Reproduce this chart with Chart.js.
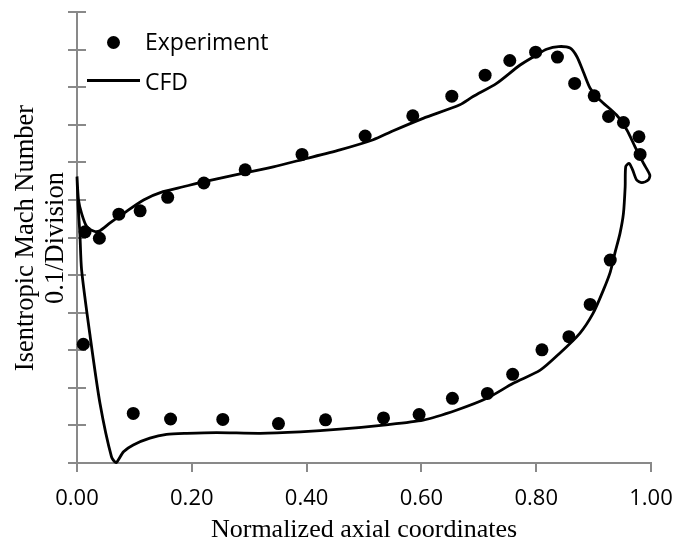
<!DOCTYPE html>
<html>
<head>
<meta charset="utf-8">
<script src="https://cdn.jsdelivr.net/npm/chart.js@4/dist/chart.umd.min.js"></script>
<style>
  html, body { margin: 0; padding: 0; background: #fff; }
  #wrap { position: relative; width: 677px; height: 544px; }
  .ytitle {
    position: absolute; white-space: nowrap; line-height: 1;
    font-family: "Liberation Serif", "Times New Roman", serif; font-size: 26.5px; color: #000;
    transform: translate(-50%, -50%) rotate(-90deg);
  }
  .leg { position: absolute; font-family: "Open Sans", sans-serif; font-size: 23px; line-height: 1; color: #000; white-space: nowrap; }
</style>
</head>
<body>
<div id="wrap">
  <canvas id="chart" width="677" height="544"></canvas>
  <div class="ytitle" style="left:24px; top:238px;">Isentropic Mach Number</div>
  <div class="ytitle" style="left:54px; top:238px;">0.1/Division</div>
  <div style="position:absolute; left:107px; top:36px; width:13px; height:13px; border-radius:50%; background:#000;"></div>
  <div class="leg" style="left:145px; top:30px;">Experiment</div>
  <div style="position:absolute; left:87px; top:79px; width:53px; height:3px; background:#000;"></div>
  <div class="leg" style="left:145px; top:70px;">CFD</div>
</div>
<script>
const axisColor = '#898989';

// experimental points, suction side then pressure side
const expSuctionX = [0.014, 0.039, 0.073, 0.110, 0.158, 0.221, 0.293, 0.392, 0.502, 0.585, 0.653,
  0.711, 0.754, 0.799, 0.837, 0.867, 0.901, 0.926, 0.952, 0.979, 0.981];
const expSuctionY = [0.615, 0.598, 0.662, 0.671, 0.707, 0.745, 0.780, 0.821, 0.870, 0.924, 0.976,
  1.032, 1.071, 1.093, 1.080, 1.010, 0.977, 0.922, 0.906, 0.868, 0.821];
const expPressureX = [0.011, 0.098, 0.163, 0.254, 0.351, 0.433, 0.534, 0.596, 0.654, 0.715, 0.759,
  0.810, 0.857, 0.894, 0.929];
const expPressureY = [0.316, 0.132, 0.117, 0.116, 0.105, 0.115, 0.120, 0.129, 0.172, 0.185, 0.236,
  0.301, 0.336, 0.422, 0.540];

// CFD curve, traced LE -> suction side -> TE loop -> pressure side -> LE
const cfdX = [0.000, 0.0026, 0.008, 0.017, 0.031, 0.040, 0.057, 0.081, 0.116, 0.150, 0.185, 0.226,
  0.290, 0.342, 0.394, 0.458, 0.516, 0.551, 0.603, 0.667, 0.690, 0.731, 0.772, 0.801, 0.818, 0.839,
  0.859, 0.871, 0.882, 0.894, 0.911, 0.940, 0.958, 0.972, 0.987, 0.998, 0.995, 0.984, 0.975, 0.968,
  0.962, 0.956, 0.955, 0.952, 0.946, 0.937, 0.929, 0.917, 0.899, 0.876, 0.841, 0.807, 0.760, 0.714,
  0.662, 0.603, 0.534, 0.458, 0.389, 0.319, 0.243, 0.191, 0.156, 0.127, 0.098, 0.081, 0.068, 0.060,
  0.040, 0.023, 0.008, 0.005, 0.002, 0.000];
const cfdY = [0.762, 0.700, 0.664, 0.629, 0.616, 0.618, 0.638, 0.664, 0.700, 0.722, 0.735, 0.750,
  0.771, 0.788, 0.808, 0.833, 0.860, 0.884, 0.917, 0.953, 0.975, 1.010, 1.059, 1.086, 1.101, 1.108,
  1.104, 1.081, 1.041, 0.997, 0.966, 0.926, 0.886, 0.842, 0.797, 0.766, 0.753, 0.746, 0.753, 0.780,
  0.797, 0.789, 0.735, 0.664, 0.611, 0.558, 0.508, 0.460, 0.398, 0.345, 0.292, 0.247, 0.212, 0.172,
  0.141, 0.114, 0.101, 0.090, 0.083, 0.079, 0.081, 0.079, 0.076, 0.066, 0.048, 0.030, 0.001, 0.017,
  0.159, 0.336, 0.514, 0.612, 0.682, 0.762];

const xTicks = [0, 0.2, 0.4, 0.6, 0.8, 1.0];

const toPts = (xs, ys) => xs.map((x, i) => ({ x, y: ys[i] }));

// y ticks in the reference cross the axis line
const crossTicks = {
  id: 'crossTicks',
  beforeDatasetsDraw(chart) {
    const y = chart.scales.y;
    const ctx = chart.ctx;
    ctx.save();
    ctx.strokeStyle = axisColor;
    ctx.lineWidth = 2;
    y.ticks.forEach((t, i) => {
      const py = Math.round(y.getPixelForTick(i));
      ctx.beginPath();
      ctx.moveTo(y.right, py);
      ctx.lineTo(y.right + 9, py);
      ctx.stroke();
    });
    ctx.restore();
  }
};

new Chart(document.getElementById('chart'), {
  type: 'scatter',
  data: {
    datasets: [
      {
        label: 'Experiment',
        data: toPts(expSuctionX, expSuctionY).concat(toPts(expPressureX, expPressureY)),
        backgroundColor: '#000',
        borderWidth: 0,
        pointRadius: 6.5,
        pointHoverRadius: 6.5,
        clip: false
      },
      {
        label: 'CFD',
        data: toPts(cfdX, cfdY),
        showLine: true,
        borderColor: '#000',
        borderWidth: 2.8,
        pointRadius: 0,
        tension: 0.25,
        clip: false
      }
    ]
  },
  plugins: [crossTicks],
  options: {
    responsive: false,
    animation: false,
    devicePixelRatio: 1,
    layout: { padding: { top: 12, right: 26, left: 0, bottom: 0 } },
    plugins: { legend: { display: false }, tooltip: { enabled: false } },
    scales: {
      x: {
        type: 'linear', min: 0, max: 1,
        afterBuildTicks: s => { s.ticks = xTicks.map(v => ({ value: v })); },
        afterFit: s => { s.height = 81; s.paddingLeft = 0; s.paddingRight = 0; },
        ticks: {
          callback: v => v.toFixed(2),
          color: '#000', padding: 14, maxRotation: 0,
          font: { family: 'Open Sans', size: 22 }
        },
        grid: { drawOnChartArea: false, color: axisColor, lineWidth: 2, tickLength: 9 },
        border: { color: axisColor, width: 2 },
        title: {
          display: true, text: 'Normalized axial coordinates', color: '#000',
          font: { family: 'Liberation Serif', size: 26, lineHeight: 1 },
          padding: { top: 0, bottom: 1 }
        }
      },
      y: {
        type: 'linear', min: 0, max: 1.2,
        afterFit: s => { s.width = 77; s.paddingTop = 0; s.paddingBottom = 0; },
        ticks: { stepSize: 0.1, display: false },
        grid: { drawOnChartArea: false, color: axisColor, lineWidth: 2, tickLength: 9 },
        border: { color: axisColor, width: 2 }
      }
    }
  }
});
</script>
</body>
</html>
